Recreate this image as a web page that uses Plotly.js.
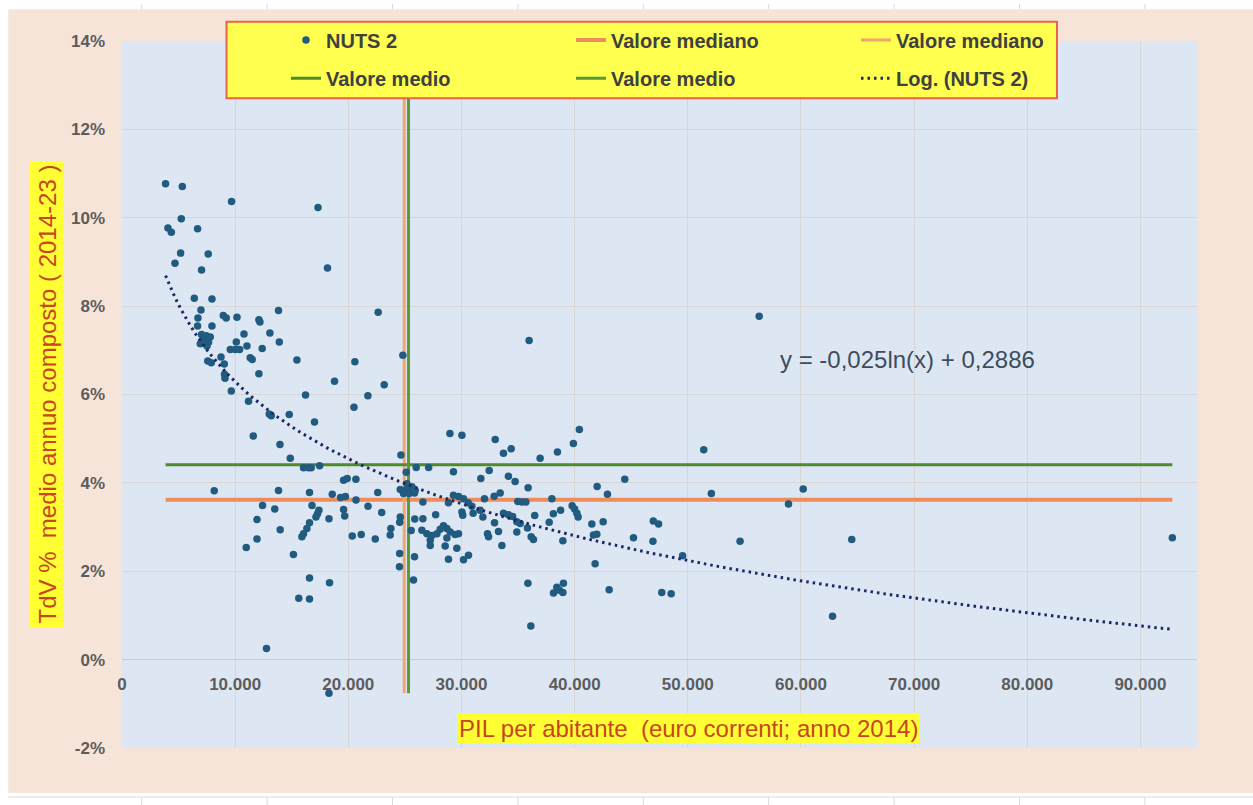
<!DOCTYPE html>
<html><head><meta charset="utf-8">
<script src="https://cdn.plot.ly/plotly-3.0.1.min.js"></script>
<style>html,body{margin:0;padding:0;background:#fff;}#chart{width:1253px;height:805px;}</style>
</head><body><div id="chart"></div>
<script>
// PIL per abitante (euro correnti, 2014) of each NUTS 2 region
const pilPerAbitante = [
3850,5330,9680,17320,5240,4060,4360,6680,5180,7620,4680,7030,18160,6390,7950,6980,6710,8950,9210,10160,
12100,12190,13830,22640,6680,7950,10780,13070,7030,7450,7800,7210,7650,6920,7510,10100,13900,9570,10010,10390,
11040,12390,8750,11330,11510,7580,7890,9040,15460,20580,24820,9060,9100,12100,18780,23170,9660,11180,16220,21730,
20500,13010,13190,14780,17010,11600,13960,14870,24650,35980,25120,26000,27100,16040,16480,16720,17460,28980,30040,32980,
33710,34390,36950,38480,39890,40420,29290,31710,32450,34150,34740,35890,44430,41990,42900,37990,19580,19900,20670,8150,
13830,16570,18580,19310,19740,20680,22600,24590,24970,25320,25620,25910,24880,25380,25850,25180,26590,28850,29290,29740,
30180,30590,30920,31030,32030,32890,33420,34980,35340,35690,39780,40000,40200,40310,38760,38120,37750,30040,30110,31650,
31890,12420,13500,16790,17400,17280,17140,19580,19680,21740,22950,27720,24590,24540,25870,26590,11930,18290,16570,16340,
16040,15900,13980,23760,23700,25560,26500,26940,27390,27830,27240,27240,28410,28710,28120,29000,29440,29740,28710,28560,
29590,20350,21140,22380,11930,10980,15150,24540,25850,24520,16570,18340,25760,15620,16570,12770,18290,28850,30180,30620,
32920,33270,32300,32390,33710,34150,34520,34890,35190,34890,35830,36160,36470,33570,36360,35870,36130,38130,38430,38660,
39010,38960,38960,41520,42520,41660,41960,41810,43050,45200,46950,47420,46920,47700,48530,49540,51410,52080,56310,60200,
58900,54620,64490,62790,92820
];
// TdV % medio annuo composto (2014-23), in percent
const tdvPercent = [
10.77,10.71,10.37,10.23,9.98,9.77,9.67,9.75,9.20,9.18,8.97,8.82,8.86,8.18,8.16,7.91,7.73,7.79,7.73,7.75,
7.69,7.64,7.90,7.86,7.55,7.55,7.37,7.39,7.36,7.33,7.30,7.25,7.18,7.15,7.10,7.19,7.19,7.02,7.02,7.02,
7.10,7.04,6.85,6.83,6.79,6.76,6.72,6.69,6.78,6.74,6.89,6.46,6.37,6.47,6.30,6.22,6.08,5.85,5.99,5.97,
5.71,5.56,5.52,5.55,5.38,5.06,4.87,4.56,4.63,7.22,4.24,4.35,4.35,4.34,4.34,4.34,4.39,5.12,5.08,4.98,
4.67,4.77,4.56,4.70,4.89,5.21,4.25,4.10,4.28,4.15,4.03,3.89,4.08,3.92,3.74,3.64,4.06,4.10,4.08,3.82,
3.83,3.78,3.74,3.67,3.69,3.61,3.78,3.85,3.83,3.87,3.91,3.83,3.76,3.76,3.77,3.98,3.57,3.55,3.72,3.69,
3.64,3.55,3.47,3.31,3.64,3.70,3.77,3.58,3.57,3.57,3.48,3.41,3.31,3.23,3.38,3.30,3.11,3.34,3.27,3.38,
3.23,3.49,3.41,3.49,3.38,3.30,3.23,3.40,3.25,3.47,3.33,3.28,3.23,3.11,3.18,3.19,3.17,3.19,3.10,2.97,
2.85,2.78,2.94,2.97,2.82,2.92,2.93,2.85,2.81,2.85,2.70,2.58,3.03,2.97,2.95,2.89,2.83,2.85,2.75,2.57,
2.52,2.80,2.83,2.73,2.73,2.54,2.38,2.40,2.33,2.10,1.85,1.74,1.80,1.39,1.37,0.25,-0.76,2.27,2.26,2.36,
3.10,2.90,2.85,2.78,3.31,3.28,3.24,3.12,3.08,2.89,2.98,2.78,3.26,2.58,2.72,1.73,0.76,1.51,1.64,1.57,
1.73,1.52,2.69,3.07,3.12,2.82,2.84,2.17,1.58,2.76,3.14,3.07,2.68,1.52,1.49,2.35,4.75,3.76,7.77,3.86,
3.52,2.68,2.72,0.98,2.76
];
// Reference values
const valoreMedianoX = 24940;
const valoreMedioX = 25320;
const valoreMedianoY = 3.62;
const valoreMedioY = 4.41;
const verticalTop = 14;

const xTickValues = [0,10000,20000,30000,40000,50000,60000,70000,80000,90000];
const xTickLabels = ['0','10.000','20.000','30.000','40.000','50.000','60.000','70.000','80.000','90.000'];
const yTickValues = [-2,0,2,4,6,8,10,12,14];
const yTickLabels = ['-2%','0%','2%','4%','6%','8%','10%','12%','14%'];
const equationText = 'y = -0,025ln(x) + 0,2886';

// ---- derived ----
const minX = Math.min(...pilPerAbitante), maxX = Math.max(...pilPerAbitante);
const minY = Math.min(...tdvPercent);

// logarithmic least-squares trendline (as in the spreadsheet "Log." trendline)
function logFit(xs, ys) {
  let n = xs.length, sx = 0, sy = 0, sxx = 0, sxy = 0;
  for (let i = 0; i < n; i++) { const l = Math.log(xs[i]); sx += l; sy += ys[i]; sxx += l*l; sxy += l*ys[i]; }
  const b = (n*sxy - sx*sy) / (n*sxx - sx*sx);
  const a = (sy - b*sx) / n;
  return {a, b};
}
const fit = logFit(pilPerAbitante, tdvPercent);
const trendX = [], trendY = [];
for (let i = 0; i <= 200; i++) {
  const xv = minX + (maxX - minX) * i / 200;
  trendX.push(xv); trendY.push(fit.a + fit.b * Math.log(xv));
}

const W = 1253, H = 805;
const M = {l: 122, r: 56, t: 41, b: 57};
const PW = W - M.l - M.r, PH = H - M.t - M.b;
const px2x = p => (p - M.l) / PW;
const py2y = p => (M.t + PH - p) / PH;

const FONT = 'Liberation Sans, Arial, sans-serif';

const traces = [
  {x: [minX, maxX], y: [valoreMedianoY, valoreMedianoY], mode: 'lines', name: 'Valore mediano',
   line: {color: '#ee8c5c', width: 4}, legend: 'legend', legendrank: 2, hoverinfo: 'skip'},
  {x: [valoreMedianoX, valoreMedianoX], y: [minY, verticalTop], mode: 'lines', name: 'Valore mediano',
   line: {color: '#f2a66f', width: 3}, legend: 'legend', legendrank: 3, hoverinfo: 'skip'},
  {x: [minX, maxX], y: [valoreMedioY, valoreMedioY], mode: 'lines', name: 'Valore medio',
   line: {color: '#4f8a2b', width: 3}, legend: 'legend2', legendrank: 1, hoverinfo: 'skip'},
  {x: [valoreMedioX, valoreMedioX], y: [minY, verticalTop], mode: 'lines', name: 'Valore medio',
   line: {color: '#5a9a34', width: 3}, legend: 'legend2', legendrank: 2, hoverinfo: 'skip'},
  {x: pilPerAbitante, y: tdvPercent, mode: 'markers', name: 'NUTS 2',
   marker: {color: '#215b80', size: 7.5}, legend: 'legend', legendrank: 1},
  {x: trendX, y: trendY, mode: 'lines', name: 'Log. (NUTS 2)',
   line: {color: '#1c2766', width: 3, dash: '2.5px,4px'}, legend: 'legend2', legendrank: 3, hoverinfo: 'skip'}
];

const legendCommon = {
  orientation: 'h', xanchor: 'left', yanchor: 'middle',
  bgcolor: 'rgba(0,0,0,0)', borderwidth: 0,
  font: {family: FONT, size: 20, weight: 'bold', color: '#404040'},
  entrywidth: 240, entrywidthmode: 'pixels', traceorder: 'normal'
};

const shapes = [
  // white spreadsheet borders around the chart area
  {type: 'rect', xref: 'paper', yref: 'paper', x0: px2x(0), x1: px2x(W), y0: py2y(0), y1: py2y(9.3), fillcolor: '#ffffff', line: {width: 0}},
  {type: 'rect', xref: 'paper', yref: 'paper', x0: px2x(0), x1: px2x(8.3), y0: py2y(0), y1: py2y(H), fillcolor: '#ffffff', line: {width: 0}},
  {type: 'rect', xref: 'paper', yref: 'paper', x0: px2x(0), x1: px2x(W), y0: py2y(793), y1: py2y(H), fillcolor: '#ffffff', line: {width: 0}},
  {type: 'line', xref: 'paper', yref: 'paper', x0: px2x(8.3), x1: px2x(W), y0: py2y(797), y1: py2y(797), line: {color: '#d9d9d9', width: 1}},
  // legend box
  {type: 'rect', xref: 'paper', yref: 'paper', x0: px2x(226.5), x1: px2x(1057), y0: py2y(98.3), y1: py2y(21.7),
   fillcolor: '#ffff4f', line: {color: '#e8634a', width: 2}, layer: 'above'}
];
for (let k = 0; k < 9; k++) {
  const xp = 141.7 + 125.4 * k;
  shapes.push({type: 'line', xref: 'paper', yref: 'paper', x0: px2x(xp), x1: px2x(xp), y0: py2y(4), y1: py2y(9.3), line: {color: '#d9d9d9', width: 1}});
  shapes.push({type: 'line', xref: 'paper', yref: 'paper', x0: px2x(xp), x1: px2x(xp), y0: py2y(797), y1: py2y(H), line: {color: '#d9d9d9', width: 1}});
}

const layout = {
  width: W, height: H,
  margin: {l: M.l, r: M.r, t: M.t, b: M.b, autoexpand: false},
  paper_bgcolor: '#f6e4d8', plot_bgcolor: '#dde7f3',
  font: {family: FONT, color: '#595959'},
  showlegend: true,
  xaxis: {
    range: [0, 95000], tickvals: xTickValues, ticktext: xTickLabels,
    showgrid: true, gridcolor: '#d7d7d7', gridwidth: 1, zeroline: false, showline: false,
    anchor: 'free', position: (0 - (-2)) / 16, ticks: '', ticklabelstandoff: 12,
    tickfont: {family: FONT, size: 17, weight: 'bold', color: '#5c5c5c'}, fixedrange: true
  },
  yaxis: {
    range: [-2, 14], tickvals: yTickValues, ticktext: yTickLabels,
    showgrid: true, gridcolor: '#d7d7d7', gridwidth: 1, zeroline: true, zerolinecolor: '#cbcbcb', zerolinewidth: 1.5,
    showline: false, ticks: '', ticklabelstandoff: 16,
    tickfont: {family: FONT, size: 17, weight: 'bold', color: '#5c5c5c'}, fixedrange: true
  },
  legend: Object.assign({}, legendCommon, {x: px2x(286), y: py2y(40)}),
  legend2: Object.assign({}, legendCommon, {x: px2x(286), y: py2y(78.3)}),
  shapes: shapes,
  annotations: [
    {text: 'TdV %\u00a0 medio annuo composto ( 2014-23 )', xref: 'paper', yref: 'paper',
     x: px2x(47), y: py2y(394.5), xanchor: 'center', yanchor: 'middle', textangle: -90, showarrow: false,
     font: {family: FONT, size: 24, color: '#c8461e'}, bgcolor: '#ffff33', borderpad: 3},
    {text: 'PIL per abitante\u00a0 (euro correnti; anno 2014)', xref: 'paper', yref: 'paper',
     x: px2x(688), y: py2y(728), xanchor: 'center', yanchor: 'middle', showarrow: false,
     font: {family: FONT, size: 24, color: '#c8461e'}, bgcolor: '#ffff33', borderpad: 1},
    {text: equationText, xref: 'paper', yref: 'paper', x: px2x(907), y: py2y(359),
     xanchor: 'center', yanchor: 'middle', showarrow: false,
     font: {family: FONT, size: 24, color: '#3d4c5e'}}
  ]
};

Plotly.newPlot('chart', traces, layout, {displayModeBar: false, staticPlot: true});
</script>
</body></html>
